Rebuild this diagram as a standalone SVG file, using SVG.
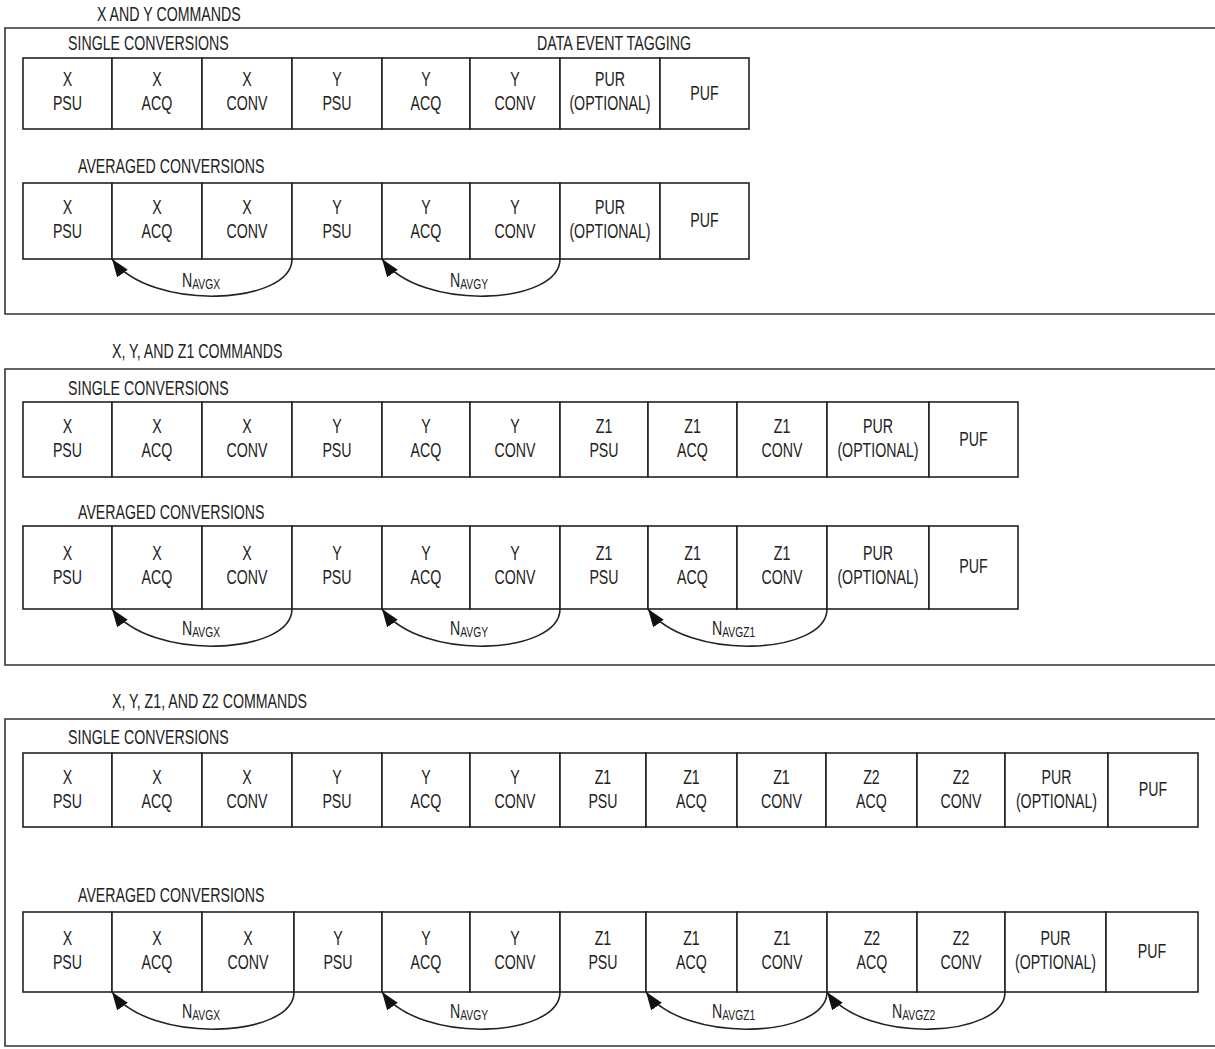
<svg xmlns="http://www.w3.org/2000/svg" width="1215" height="1049" viewBox="0 0 1215 1049">
<defs>
<style>
text{font-family:"Liberation Sans",Arial,sans-serif;font-size:20px;fill:#222;transform-box:fill-box;transform-origin:50% 50%;transform:scaleX(0.71);}
text.l{transform-origin:0% 50%;}
.c{text-anchor:middle;}
.sub{font-size:14.5px;}
.frame{fill:none;stroke:#333;stroke-width:1.6;}
.box rect{fill:#fff;stroke:#222;stroke-width:1.6;}
.arc{fill:none;stroke:#222;stroke-width:1.6;marker-end:url(#ah);}
</style>
<marker id="ah" markerUnits="userSpaceOnUse" markerWidth="19" markerHeight="14" refX="18" refY="6.5" orient="auto">
<path d="M0,0 L18,6.5 L0,13 z" fill="#111"/>
</marker>
</defs>
<rect width="1215" height="1049" fill="#fff"/>

<!-- SECTION 1 -->
<g id="sec1">
<text class="l" x="97" y="21">X AND Y COMMANDS</text>
<path class="frame" d="M1216,28 H5 V314 H1216"/>
<text class="l" x="68" y="50">SINGLE CONVERSIONS</text>
<text class="l" x="537" y="50">DATA EVENT TAGGING</text>
<text class="l" x="78" y="173">AVERAGED CONVERSIONS</text>
</g>
<g id="s1-single">
<g class="box" id="s1s-xpsu"><rect x="23" y="58" width="89" height="71"/><text class="c" x="67.5" y="86.5">X</text><text class="c" x="67.5" y="110.5">PSU</text></g>
<g class="box" id="s1s-xacq"><rect x="112" y="58" width="90" height="71"/><text class="c" x="157" y="86.5">X</text><text class="c" x="157" y="110.5">ACQ</text></g>
<g class="box" id="s1s-xconv"><rect x="202" y="58" width="90" height="71"/><text class="c" x="247" y="86.5">X</text><text class="c" x="247" y="110.5">CONV</text></g>
<g class="box" id="s1s-ypsu"><rect x="292" y="58" width="90" height="71"/><text class="c" x="337" y="86.5">Y</text><text class="c" x="337" y="110.5">PSU</text></g>
<g class="box" id="s1s-yacq"><rect x="382" y="58" width="88" height="71"/><text class="c" x="426" y="86.5">Y</text><text class="c" x="426" y="110.5">ACQ</text></g>
<g class="box" id="s1s-yconv"><rect x="470" y="58" width="90" height="71"/><text class="c" x="515" y="86.5">Y</text><text class="c" x="515" y="110.5">CONV</text></g>
<g class="box" id="s1s-pur"><rect x="560" y="58" width="100" height="71"/><text class="c" x="610" y="86.5">PUR</text><text class="c" x="610" y="110.5">(OPTIONAL)</text></g>
<g class="box" id="s1s-puf"><rect x="660" y="58" width="89" height="71"/><text class="c" x="704.5" y="100">PUF</text></g>
</g>
<g id="s1-avg">
<g class="box" id="s1a-xpsu"><rect x="23" y="183" width="89" height="76"/><text class="c" x="67.5" y="214.5">X</text><text class="c" x="67.5" y="238.5">PSU</text></g>
<g class="box" id="s1a-xacq"><rect x="112" y="183" width="90" height="76"/><text class="c" x="157" y="214.5">X</text><text class="c" x="157" y="238.5">ACQ</text></g>
<g class="box" id="s1a-xconv"><rect x="202" y="183" width="90" height="76"/><text class="c" x="247" y="214.5">X</text><text class="c" x="247" y="238.5">CONV</text></g>
<g class="box" id="s1a-ypsu"><rect x="292" y="183" width="90" height="76"/><text class="c" x="337" y="214.5">Y</text><text class="c" x="337" y="238.5">PSU</text></g>
<g class="box" id="s1a-yacq"><rect x="382" y="183" width="88" height="76"/><text class="c" x="426" y="214.5">Y</text><text class="c" x="426" y="238.5">ACQ</text></g>
<g class="box" id="s1a-yconv"><rect x="470" y="183" width="90" height="76"/><text class="c" x="515" y="214.5">Y</text><text class="c" x="515" y="238.5">CONV</text></g>
<g class="box" id="s1a-pur"><rect x="560" y="183" width="100" height="76"/><text class="c" x="610" y="214.5">PUR</text><text class="c" x="610" y="238.5">(OPTIONAL)</text></g>
<g class="box" id="s1a-puf"><rect x="660" y="183" width="89" height="76"/><text class="c" x="704.5" y="227.5">PUF</text></g>
</g>

<!-- SECTION 2 -->
<g id="sec2">
<text class="l" x="112" y="358">X, Y, AND Z1 COMMANDS</text>
<path class="frame" d="M1216,369 H5 V665 H1216"/>
<text class="l" x="68" y="395">SINGLE CONVERSIONS</text>
<text class="l" x="78" y="519">AVERAGED CONVERSIONS</text>
</g>
<g id="s2-single">
<g class="box" id="s2s-xpsu"><rect x="23" y="402" width="89" height="75"/><text class="c" x="67.5" y="433">X</text><text class="c" x="67.5" y="457">PSU</text></g>
<g class="box" id="s2s-xacq"><rect x="112" y="402" width="90" height="75"/><text class="c" x="157" y="433">X</text><text class="c" x="157" y="457">ACQ</text></g>
<g class="box" id="s2s-xconv"><rect x="202" y="402" width="90" height="75"/><text class="c" x="247" y="433">X</text><text class="c" x="247" y="457">CONV</text></g>
<g class="box" id="s2s-ypsu"><rect x="292" y="402" width="90" height="75"/><text class="c" x="337" y="433">Y</text><text class="c" x="337" y="457">PSU</text></g>
<g class="box" id="s2s-yacq"><rect x="382" y="402" width="88" height="75"/><text class="c" x="426" y="433">Y</text><text class="c" x="426" y="457">ACQ</text></g>
<g class="box" id="s2s-yconv"><rect x="470" y="402" width="90" height="75"/><text class="c" x="515" y="433">Y</text><text class="c" x="515" y="457">CONV</text></g>
<g class="box" id="s2s-z1psu"><rect x="560" y="402" width="88" height="75"/><text class="c" x="604" y="433">Z1</text><text class="c" x="604" y="457">PSU</text></g>
<g class="box" id="s2s-z1acq"><rect x="648" y="402" width="89" height="75"/><text class="c" x="692.5" y="433">Z1</text><text class="c" x="692.5" y="457">ACQ</text></g>
<g class="box" id="s2s-z1conv"><rect x="737" y="402" width="90" height="75"/><text class="c" x="782" y="433">Z1</text><text class="c" x="782" y="457">CONV</text></g>
<g class="box" id="s2s-pur"><rect x="827" y="402" width="102" height="75"/><text class="c" x="878" y="433">PUR</text><text class="c" x="878" y="457">(OPTIONAL)</text></g>
<g class="box" id="s2s-puf"><rect x="929" y="402" width="89" height="75"/><text class="c" x="973.5" y="446">PUF</text></g>
</g>
<g id="s2-avg">
<g class="box" id="s2a-xpsu"><rect x="23" y="526" width="89" height="83"/><text class="c" x="67.5" y="560.5">X</text><text class="c" x="67.5" y="584.5">PSU</text></g>
<g class="box" id="s2a-xacq"><rect x="112" y="526" width="90" height="83"/><text class="c" x="157" y="560.5">X</text><text class="c" x="157" y="584.5">ACQ</text></g>
<g class="box" id="s2a-xconv"><rect x="202" y="526" width="90" height="83"/><text class="c" x="247" y="560.5">X</text><text class="c" x="247" y="584.5">CONV</text></g>
<g class="box" id="s2a-ypsu"><rect x="292" y="526" width="90" height="83"/><text class="c" x="337" y="560.5">Y</text><text class="c" x="337" y="584.5">PSU</text></g>
<g class="box" id="s2a-yacq"><rect x="382" y="526" width="88" height="83"/><text class="c" x="426" y="560.5">Y</text><text class="c" x="426" y="584.5">ACQ</text></g>
<g class="box" id="s2a-yconv"><rect x="470" y="526" width="90" height="83"/><text class="c" x="515" y="560.5">Y</text><text class="c" x="515" y="584.5">CONV</text></g>
<g class="box" id="s2a-z1psu"><rect x="560" y="526" width="88" height="83"/><text class="c" x="604" y="560.5">Z1</text><text class="c" x="604" y="584.5">PSU</text></g>
<g class="box" id="s2a-z1acq"><rect x="648" y="526" width="89" height="83"/><text class="c" x="692.5" y="560.5">Z1</text><text class="c" x="692.5" y="584.5">ACQ</text></g>
<g class="box" id="s2a-z1conv"><rect x="737" y="526" width="90" height="83"/><text class="c" x="782" y="560.5">Z1</text><text class="c" x="782" y="584.5">CONV</text></g>
<g class="box" id="s2a-pur"><rect x="827" y="526" width="102" height="83"/><text class="c" x="878" y="560.5">PUR</text><text class="c" x="878" y="584.5">(OPTIONAL)</text></g>
<g class="box" id="s2a-puf"><rect x="929" y="526" width="89" height="83"/><text class="c" x="973.5" y="573">PUF</text></g>
</g>

<!-- SECTION 3 -->
<g id="sec3">
<text class="l" x="112" y="708">X, Y, Z1, AND Z2 COMMANDS</text>
<path class="frame" d="M1216,719 H5 V1046 H1216"/>
<text class="l" x="68" y="744">SINGLE CONVERSIONS</text>
<text class="l" x="78" y="902">AVERAGED CONVERSIONS</text>
</g>
<g id="s3-single">
<g class="box" id="s3s-xpsu"><rect x="23" y="753" width="89" height="74"/><text class="c" x="67.5" y="784">X</text><text class="c" x="67.5" y="808">PSU</text></g>
<g class="box" id="s3s-xacq"><rect x="112" y="753" width="90" height="74"/><text class="c" x="157" y="784">X</text><text class="c" x="157" y="808">ACQ</text></g>
<g class="box" id="s3s-xconv"><rect x="202" y="753" width="90" height="74"/><text class="c" x="247" y="784">X</text><text class="c" x="247" y="808">CONV</text></g>
<g class="box" id="s3s-ypsu"><rect x="292" y="753" width="90" height="74"/><text class="c" x="337" y="784">Y</text><text class="c" x="337" y="808">PSU</text></g>
<g class="box" id="s3s-yacq"><rect x="382" y="753" width="88" height="74"/><text class="c" x="426" y="784">Y</text><text class="c" x="426" y="808">ACQ</text></g>
<g class="box" id="s3s-yconv"><rect x="470" y="753" width="90" height="74"/><text class="c" x="515" y="784">Y</text><text class="c" x="515" y="808">CONV</text></g>
<g class="box" id="s3s-z1psu"><rect x="560" y="753" width="86" height="74"/><text class="c" x="603" y="784">Z1</text><text class="c" x="603" y="808">PSU</text></g>
<g class="box" id="s3s-z1acq"><rect x="646" y="753" width="91" height="74"/><text class="c" x="691.5" y="784">Z1</text><text class="c" x="691.5" y="808">ACQ</text></g>
<g class="box" id="s3s-z1conv"><rect x="737" y="753" width="89" height="74"/><text class="c" x="781.5" y="784">Z1</text><text class="c" x="781.5" y="808">CONV</text></g>
<g class="box" id="s3s-z2acq"><rect x="826" y="753" width="91" height="74"/><text class="c" x="871.5" y="784">Z2</text><text class="c" x="871.5" y="808">ACQ</text></g>
<g class="box" id="s3s-z2conv"><rect x="917" y="753" width="88" height="74"/><text class="c" x="961" y="784">Z2</text><text class="c" x="961" y="808">CONV</text></g>
<g class="box" id="s3s-pur"><rect x="1005" y="753" width="103" height="74"/><text class="c" x="1056.5" y="784">PUR</text><text class="c" x="1056.5" y="808">(OPTIONAL)</text></g>
<g class="box" id="s3s-puf"><rect x="1108" y="753" width="90" height="74"/><text class="c" x="1153" y="796.5">PUF</text></g>
</g>
<g id="s3-avg">
<g class="box" id="s3a-xpsu"><rect x="23" y="912" width="89" height="80"/><text class="c" x="67.5" y="945">X</text><text class="c" x="67.5" y="969">PSU</text></g>
<g class="box" id="s3a-xacq"><rect x="112" y="912" width="90" height="80"/><text class="c" x="157" y="945">X</text><text class="c" x="157" y="969">ACQ</text></g>
<g class="box" id="s3a-xconv"><rect x="202" y="912" width="92" height="80"/><text class="c" x="248" y="945">X</text><text class="c" x="248" y="969">CONV</text></g>
<g class="box" id="s3a-ypsu"><rect x="294" y="912" width="88" height="80"/><text class="c" x="338" y="945">Y</text><text class="c" x="338" y="969">PSU</text></g>
<g class="box" id="s3a-yacq"><rect x="382" y="912" width="88" height="80"/><text class="c" x="426" y="945">Y</text><text class="c" x="426" y="969">ACQ</text></g>
<g class="box" id="s3a-yconv"><rect x="470" y="912" width="90" height="80"/><text class="c" x="515" y="945">Y</text><text class="c" x="515" y="969">CONV</text></g>
<g class="box" id="s3a-z1psu"><rect x="560" y="912" width="86" height="80"/><text class="c" x="603" y="945">Z1</text><text class="c" x="603" y="969">PSU</text></g>
<g class="box" id="s3a-z1acq"><rect x="646" y="912" width="91" height="80"/><text class="c" x="691.5" y="945">Z1</text><text class="c" x="691.5" y="969">ACQ</text></g>
<g class="box" id="s3a-z1conv"><rect x="737" y="912" width="90" height="80"/><text class="c" x="782" y="945">Z1</text><text class="c" x="782" y="969">CONV</text></g>
<g class="box" id="s3a-z2acq"><rect x="827" y="912" width="90" height="80"/><text class="c" x="872" y="945">Z2</text><text class="c" x="872" y="969">ACQ</text></g>
<g class="box" id="s3a-z2conv"><rect x="917" y="912" width="88" height="80"/><text class="c" x="961" y="945">Z2</text><text class="c" x="961" y="969">CONV</text></g>
<g class="box" id="s3a-pur"><rect x="1005" y="912" width="101" height="80"/><text class="c" x="1055.5" y="945">PUR</text><text class="c" x="1055.5" y="969">(OPTIONAL)</text></g>
<g class="box" id="s3a-puf"><rect x="1106" y="912" width="92" height="80"/><text class="c" x="1152" y="958">PUF</text></g>
</g>

<!-- CONNECTORS -->
<g id="connectors">
<path class="arc" d="M292,259 C292,305 150,312 112,259"/>
<path class="arc" d="M560,259 C560,305 420,312 382,259"/>
<path class="arc" d="M292,609 C292,655 150,662 112,609"/>
<path class="arc" d="M560,609 C560,655 420,662 382,609"/>
<path class="arc" d="M827,609 C827,655 686,662 648,609"/>
<path class="arc" d="M294,992 C294,1038 150,1045 112,992"/>
<path class="arc" d="M560,992 C560,1038 420,1045 382,992"/>
<path class="arc" d="M827,992 C827,1038 684,1045 646,992"/>
<path class="arc" d="M1005,992 C1005,1038 865,1045 827,992"/>
</g>
<g id="connector-labels">
<text class="l" x="182" y="287">N<tspan class="sub" dy="2">AVGX</tspan></text>
<text class="l" x="450" y="287">N<tspan class="sub" dy="2">AVGY</tspan></text>
<text class="l" x="182" y="635">N<tspan class="sub" dy="2">AVGX</tspan></text>
<text class="l" x="450" y="635">N<tspan class="sub" dy="2">AVGY</tspan></text>
<text class="l" x="712" y="635">N<tspan class="sub" dy="2">AVGZ1</tspan></text>
<text class="l" x="182" y="1018">N<tspan class="sub" dy="2">AVGX</tspan></text>
<text class="l" x="450" y="1018">N<tspan class="sub" dy="2">AVGY</tspan></text>
<text class="l" x="712" y="1018">N<tspan class="sub" dy="2">AVGZ1</tspan></text>
<text class="l" x="892" y="1018">N<tspan class="sub" dy="2">AVGZ2</tspan></text>
</g>
</svg>
